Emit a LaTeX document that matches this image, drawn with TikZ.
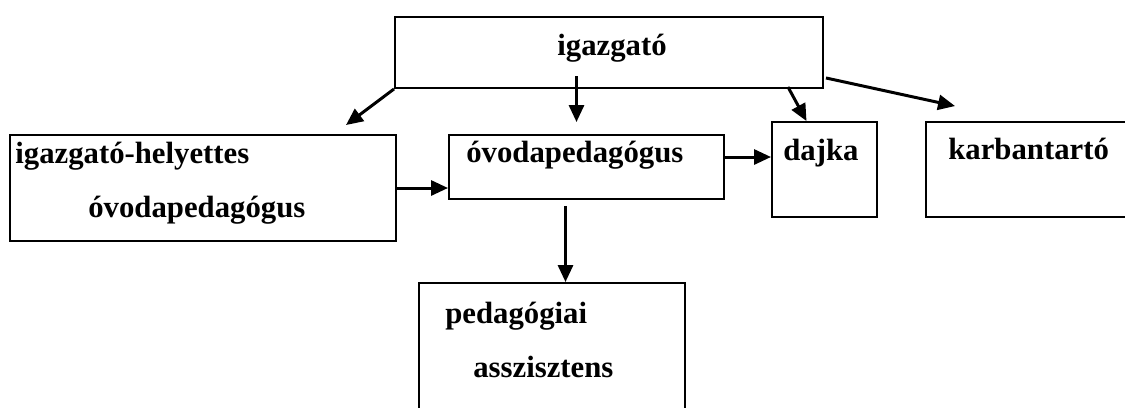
\documentclass[tikz,border=0pt]{standalone}
\usepackage{fontspec}
\setmainfont{Liberation Serif}
\usetikzlibrary{positioning,calc,fit,arrows.meta}
\tikzset{
  role/.style={draw, line width=1.1pt, inner sep=0pt},
  rolelabel/.style={font=\bfseries\fontsize{17.5}{21}\selectfont, inner sep=0pt, anchor=base west},
  link/.style={line width=1.7pt, -{Triangle[length=0.34cm,width=0.3cm]}},
}

\begin{document}
\begin{tikzpicture}[x=0.02cm, y=-0.02cm]
\path[use as bounding box, fill=white] (0,0) rectangle (1125,407);
\clip (0,0) rectangle (1125,407);

% ---- boxes (pixel grid, y runs downwards) ----
\node[role, fit={(395,17) (823,88)}]   (dir)   {};
\node[role, fit={(10,135) (396,241)}]  (hely)  {};
\node[role, fit={(449,135) (724,199)}] (ovoda) {};
\node[role, fit={(772,122) (877,217)}] (dajka) {};
\node[role, fit={(926,122) (1140,217)}](karb)  {};
\node[role, fit={(419,283) (685,430)}] (assz)  {};

% ---- texts ----
\node[rolelabel] (dir-t)   at (557,55)  {igazgató};
\node[rolelabel] (hely-t1) at (15,163)  {igazgató-helyettes};
\node[rolelabel] (hely-t2) at (88,217)  {óvodapedagógus};
\node[rolelabel] (ovoda-t) at (466,162) {óvodapedagógus};
\node[rolelabel] (dajka-t) at (783,160) {dajka};
\node[rolelabel] (karb-t)  at (948,159) {karbantartó};
\node[rolelabel] (assz-t1) at (445,323) {pedagógiai};
\node[rolelabel] (assz-t2) at (473,377) {asszisztens};

% ---- arrows from the head ----
\draw[link] (dir.south west) -- ($(hely.north east)+(-51,-9)$);
\draw[link] ($(ovoda.north)+(-10,-58)$) -- ($(ovoda.north)+(-10,-12)$);
\draw[link] ($(dir.south east)+(-36,-2)$) -- ($(dajka.north)+(-18,0)$);
\draw[link] ($(dir.south east)+(2,-11)$) -- ($(karb.north west)+(30,-15)$);

% ---- arrows between the others ----
\draw[link] (hely.east) -- (hely.east -| ovoda.west);
\draw[link] ($(ovoda.east)+(0,-10)$) coordinate (o1) -- (o1 -| dajka.west);
\draw[link] ($(ovoda.south)+(-21,6)$) coordinate (o2) -- (o2 |- assz.north);

\end{tikzpicture}
\end{document}
